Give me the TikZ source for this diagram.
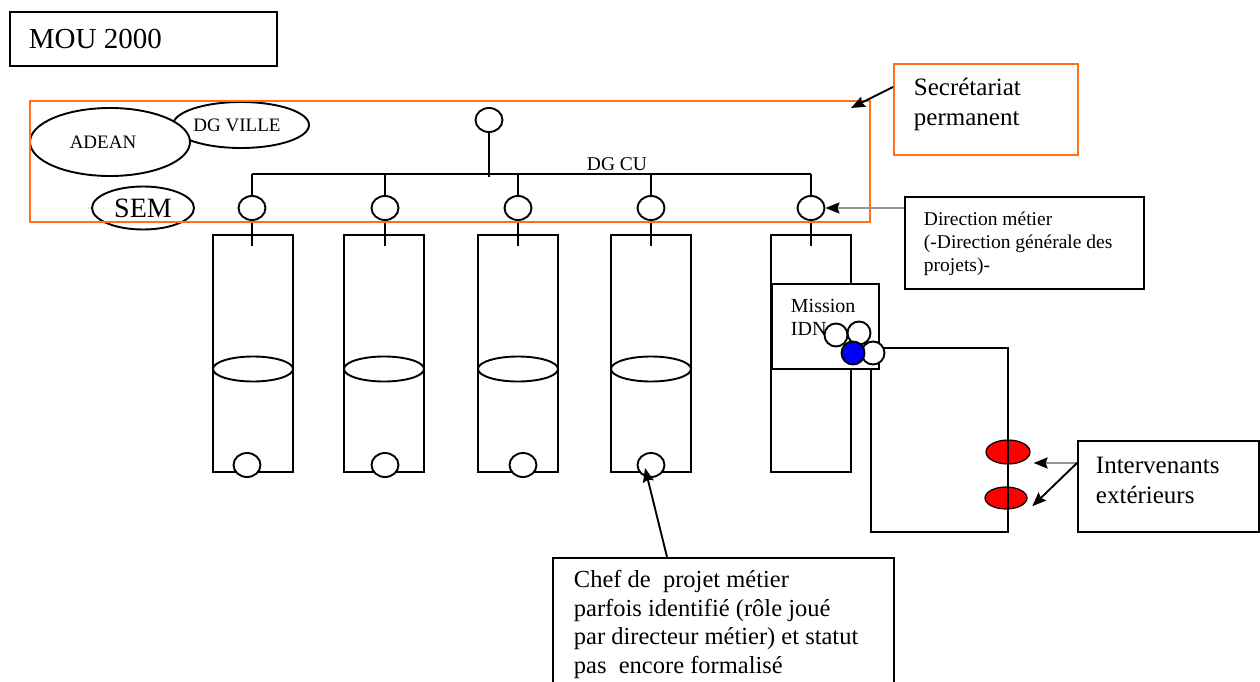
\documentclass[tikz,border=0pt]{standalone}
\usepackage{fontspec}
\setmainfont{Liberation Serif}
\usetikzlibrary{positioning,arrows.meta,shapes.geometric}
\definecolor{secorange}{RGB}{255,112,24}
\definecolor{idnblue}{RGB}{0,0,255}
\definecolor{extred}{RGB}{255,0,0}
\definecolor{arrowgray}{RGB}{150,150,150}

\begin{document}
\begin{tikzpicture}[
    x=1pt, y=-1pt, >=Stealth,
    line width=1.9pt,
    oval/.style={draw, ellipse, fill=white, inner sep=0pt},
    post/.style={oval, minimum width=27pt, minimum height=24pt},
    column/.style={draw, rectangle, minimum width=80pt, minimum height=237pt},
    band/.style={oval, minimum width=80pt, minimum height=25pt},
    box/.style={draw, rectangle, anchor=north west, inner sep=0pt},
    txt/.style={inner sep=0pt, anchor=base west, align=left},
    tip/.style={-{Stealth[length=14pt,width=11pt,inset=2pt]}},
    graytip/.style={arrowgray, line width=2.2pt, -{Stealth[color=black,length=14pt,width=11pt,inset=2pt]}}
]
\useasboundingbox[fill=white] (0,0) rectangle (1260,682);

% Title box
\node[box, minimum width=267pt, minimum height=54pt] (mou) at (9,11) {};
\node[txt, font=\fontsize{29}{34}\selectfont] (moutxt) at (28,49) {MOU 2000};

% Partners
\node[oval, minimum width=136pt, minimum height=46pt, font=\fontsize{19}{22}\selectfont] (dgville) at (241,125) {\hspace*{-8pt}DG VILLE};
\node[oval, minimum width=160pt, minimum height=68pt, font=\fontsize{19}{22}\selectfont] (adean) at (110,142) {ADEAN\hspace*{14pt}};
\node[oval, minimum width=102pt, minimum height=43pt, font=\fontsize{28}{32}\selectfont] (sem) at (143,208) {SEM};

% DG CU and the directions
\node[post] (top) at (489,120) {};
\coordinate (bus) at (489,174);
\node[font=\fontsize{19.5}{22}\selectfont, anchor=base, inner sep=0pt] (dgcu) at (617,170) {DG CU};

\foreach \x/\i in {253/1,384/2,518/3,651/4,811/5}
    \node[column] (col\i) at (\x,353.5) {};
\foreach \x/\i in {253/1,384/2,518/3,651/4}
    \node[band] (band\i) at (\x,369) {};
\foreach \x/\i in {247/1,385/2,523/3,651/4}
    \node[post] (b\i) at (\x,465) {};

\foreach \x/\i in {252/1,385/2,518/3,651/4,811/5}
    \node[post] (c\i) at (\x,208) {};

\draw (top) -- ([yshift=-3pt]bus);
\draw (c1 |- bus) -- (c5 |- bus);
\foreach \i in {1,...,5} {
    \draw (c\i) -- (c\i |- bus);
    \coordinate (tick\i) at ([yshift=-12pt]c\i.south |- col\i.north);
    \draw (c\i) -- (tick\i);
}

% Secretariat frame
\node[box, draw=secorange, minimum width=840pt, minimum height=121pt] (secr) at (29,100) {};
\node[box, draw=secorange, minimum width=184pt, minimum height=91pt] (secbox) at (893,63) {};
\node[txt, font=\fontsize{25}{30}\selectfont] (sectxt) at (913,125) {Secrétariat\\permanent};
\coordinate (secA) at (893,87);
\coordinate (secT) at (851,108);
\draw[tip] (secA) -- (secT);

% Direction metier
\node[box, minimum width=239pt, minimum height=92pt] (dirbox) at (904,196) {};
\node[txt, font=\fontsize{19.5}{23}\selectfont] (dirtxt) at (923,271) {Direction métier\\(-Direction générale des\\projets)-};
\draw[graytip] (dirbox.west |- c5) -- (c5.east);

% Mission IDN
\node[box, fill=white, minimum width=107pt, minimum height=85pt] (mission) at (771,283) {};
\node[txt, font=\fontsize{20}{23}\selectfont] (missiontxt) at (790,335) {Mission\\IDN};

% External actors
\node[oval, fill=extred, line width=1.2pt, minimum width=44pt, minimum height=24pt] (ext1) at (1008,452) {};
\node[oval, fill=extred, line width=1.2pt, minimum width=42pt, minimum height=22pt] (ext2) at (1006,498) {};
\coordinate (loopBL) at (871,532);
\coordinate (loopBR) at (1008,532);
\coordinate (loopTR) at (1008,348);
\coordinate (loopTL) at (873,348);
\draw (loopBL |- mission.south) -- (loopBL) -- (loopBR) -- (loopTR) -- (loopTL);

\node[oval, minimum size=23pt] (m1) at (836,335) {};
\node[oval, minimum size=23pt] (m2) at (859,333) {};
\node[oval, minimum size=23pt] (m4) at (873,353) {};
\node[oval, fill=idnblue, minimum size=23pt] (m3) at (853,353) {};

\node[box, minimum width=181pt, minimum height=91pt] (interbox) at (1077,440) {};
\node[txt, font=\fontsize{25}{30}\selectfont] (intertxt) at (1095,503) {Intervenants\\extérieurs};
\coordinate (interA) at ([yshift=-23pt]interbox.north west);
\coordinate (e1r) at ([xshift=3pt]ext1.east);
\coordinate (e2r) at ([xshift=11pt]ext2.south east);
\draw[graytip] (interA) -- (e1r |- interA);
\draw[tip] (interA) -- (e2r);

% Chef de projet
\node[box, minimum width=341pt, minimum height=140pt] (chefbox) at (552,557) {};
\node[txt, font=\fontsize{24.5}{28.4}\selectfont] (cheftxt) at (573,673) {Chef de\ \ projet métier\\parfois identifié (rôle joué\\par directeur métier) et statut\\pas\ \ encore formalisé};
\coordinate (chefA) at ([xshift=115pt]chefbox.north west);
\draw[tip] (chefA) -- ([xshift=-6pt,yshift=-3pt]b4.center);

\end{tikzpicture}
\end{document}
